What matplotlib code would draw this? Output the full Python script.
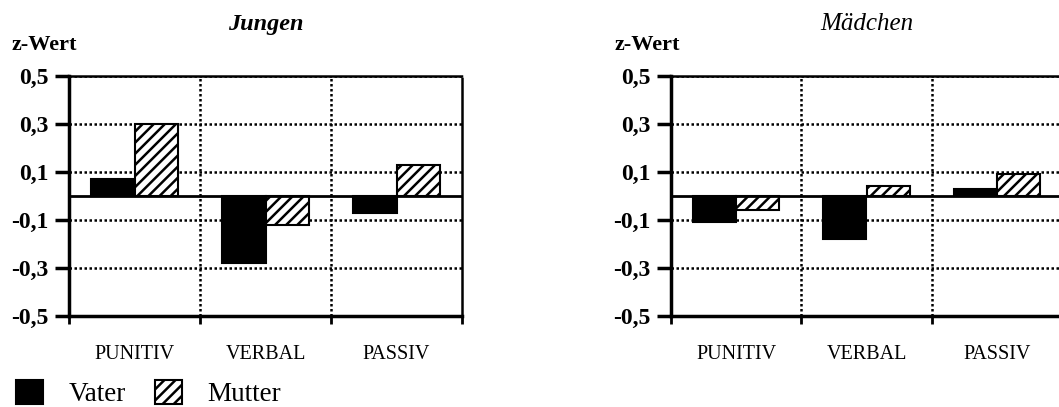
import numpy as np
import matplotlib
matplotlib.use("Agg")
import matplotlib.pyplot as plt
from matplotlib.ticker import FixedLocator, FuncFormatter

plt.rcParams['font.family'] = ['Liberation Serif', 'DejaVu Serif']
plt.rcParams['hatch.linewidth'] = 1.8

categories = ['PUNITIV', 'VERBAL', 'PASSIV']
yticks = [-0.5, -0.3, -0.1, 0.1, 0.3, 0.5]

# z-Werte Jungen
jungen_vater = [0.07, -0.28, -0.07]
jungen_mutter = [0.30, -0.12, 0.13]
# z-Werte Maedchen
maedchen_vater = [-0.11, -0.18, 0.03]
maedchen_mutter = [-0.06, 0.04, 0.09]

fig = plt.figure(figsize=(10.59, 4.07), dpi=100)

ax1 = fig.add_axes([69/1059, 91/407, 393/1059, 240/407])
ax2 = fig.add_axes([671/1059, 91/407, 391/1059, 240/407])

dots = (0, (1, 1))
w = 0.33
x = np.arange(len(categories))


def panel(ax, vater, mutter, title, title_size, title_weight):
    ax.set_xlim(-0.5, 2.5)
    ax.set_ylim(-0.5, 0.5)
    for y in yticks:
        ax.axhline(y, color='black', lw=1.8, ls=dots, zorder=1)
    for xb in [0.5, 1.5]:
        ax.axvline(xb, color='black', lw=1.8, ls=dots, zorder=1)
    bv = ax.bar(x - w/2, vater, w, color='black', edgecolor='black',
                lw=1.5, zorder=3, label='Vater')
    bm = ax.bar(x + w/2, mutter, w, color='white', edgecolor='black',
                hatch='///', lw=1.5, zorder=3, label='Mutter')
    ax.axhline(0, color='black', lw=2.0, zorder=4)

    ax.spines['left'].set_linewidth(2.5)
    ax.spines['bottom'].set_linewidth(2.5)
    for s in ['top', 'right']:
        ax.spines[s].set_linewidth(1.8)
        ax.spines[s].set_linestyle(dots)

    ax.yaxis.set_major_locator(FixedLocator(yticks))
    ax.yaxis.set_major_formatter(
        FuncFormatter(lambda v, p: ('%.1f' % v).replace('.', ',')))
    ax.tick_params(axis='y', direction='out', length=10, width=2.5,
                   pad=5, labelsize=17)
    for lab in ax.get_yticklabels():
        lab.set_fontweight('bold')

    ax.set_xticks(x)
    ax.set_xticklabels(categories, fontsize=14.5)
    ax.tick_params(axis='x', which='major', length=0, pad=21)
    ax.xaxis.set_minor_locator(FixedLocator([-0.5, 0.5, 1.5, 2.5]))
    ax.tick_params(axis='x', which='minor', direction='out', length=6,
                   width=2)

    ax.text(0.5, 1.215, title, transform=ax.transAxes, ha='center',
            va='center', fontsize=title_size, style='italic',
            fontweight=title_weight)
    ax.text(-0.145, 1.128, 'z-Wert', transform=ax.transAxes, ha='left',
            va='center', fontsize=16, fontweight='bold')
    return bv, bm


bv, bm = panel(ax1, jungen_vater, jungen_mutter, 'Jungen', 17.5, 'bold')
panel(ax2, maedchen_vater, maedchen_mutter, 'Mädchen', 18, 'normal')

fig.legend(handles=[bv, bm], loc='lower left', bbox_to_anchor=(-0.008, -0.06),
           ncol=2, frameon=False, fontsize=19.5, handlelength=1.0,
           handleheight=1.0, handletextpad=0.95, columnspacing=1.07)

fig.savefig('out.png', dpi=100)
